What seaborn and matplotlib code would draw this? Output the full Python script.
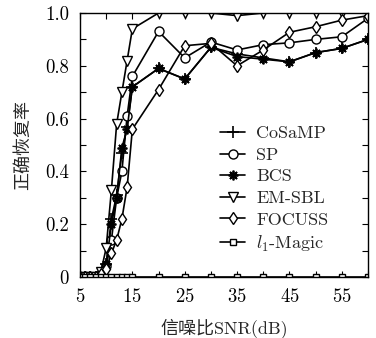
import matplotlib
matplotlib.use("Agg")
import matplotlib.pyplot as plt
import seaborn as sns
import pandas as pd
from matplotlib.ticker import MultipleLocator, FixedLocator

sns.set_theme(style="ticks")
plt.rcParams['font.family'] = ['cmr10', 'Noto Sans CJK SC']
plt.rcParams['mathtext.fontset'] = 'cm'
plt.rcParams['axes.formatter.use_mathtext'] = True

snr = [5, 6, 7, 8, 9, 10, 11, 12, 13, 14, 15, 20, 25, 30, 35, 40, 45, 50, 55, 60]
cosamp = [0, 0, 0, 0, 0.01, 0.05, 0.22, 0.31, 0.47, 0.57, 0.72, 0.79, 0.75, 0.87, 0.845, 0.83, 0.815, 0.85, 0.866, 0.90]
sp = [0, 0, 0, 0, 0.01, 0.04, 0.14, 0.30, 0.40, 0.61, 0.76, 0.93, 0.83, 0.89, 0.86, 0.88, 0.887, 0.90, 0.91, 0.98]
bcs = [0, 0, 0, 0, 0.01, 0.05, 0.20, 0.30, 0.49, 0.56, 0.72, 0.79, 0.75, 0.87, 0.835, 0.825, 0.815, 0.85, 0.866, 0.90]
emsbl = [0, 0, 0, 0, 0.02, 0.11, 0.33, 0.58, 0.70, 0.82, 0.94, 1.0, 1.0, 1.0, 0.99, 1.0, 1.0, 1.0, 1.0, 1.0]
focuss = [0, 0, 0, 0, 0.01, 0.03, 0.09, 0.14, 0.22, 0.34, 0.56, 0.71, 0.876, 0.885, 0.80, 0.86, 0.927, 0.948, 0.973, 0.99]
l1magic = [0, 0, 0, 0, 0, 0, 0, 0, 0, 0, 0, 0, 0, 0, 0, 0, 0, 0, 0, 0]

labels = ['CoSaMP', 'SP', 'BCS', 'EM-SBL', 'FOCUSS', r'$l_1$-Magic']
series = [cosamp, sp, bcs, emsbl, focuss, l1magic]
styles = [
    dict(marker='+', ms=8, mew=1.2, mfc='none'),
    dict(marker='o', ms=6.5, mew=1.0, mfc='white'),
    dict(marker=(8, 2, 0), ms=7, mew=1.3, mfc='black'),
    dict(marker='v', ms=7, mew=1.0, mfc='white'),
    dict(marker='d', ms=6.5, mew=1.0, mfc='white'),
    dict(marker='s', ms=4.5, mew=1.0, mfc='white'),
]

fig = plt.figure(figsize=(3.76, 3.38), dpi=100)
ax = fig.add_axes([80/376, 1 - 277/338, 288/376, 264/338])

for lab, vals, st in zip(labels, series, styles):
    df = pd.DataFrame({'snr': snr, 'rate': vals})
    sns.lineplot(data=df, x='snr', y='rate', ax=ax, color='black', lw=1.2,
                 mec='black', label=lab, **st)

ax.set_xlim(5, 60)
ax.set_ylim(0, 1.0)
ax.xaxis.set_major_locator(FixedLocator([5, 15, 25, 35, 45, 55]))
ax.xaxis.set_minor_locator(FixedLocator([10, 20, 30, 40, 50, 60]))
ax.yaxis.set_major_locator(FixedLocator([0, 0.2, 0.4, 0.6, 0.8, 1.0]))
ax.yaxis.set_minor_locator(MultipleLocator(0.1))
ax.set_yticklabels(['0', '0.2', '0.4', '0.6', '0.8', '1.0'])
ax.tick_params(which='both', direction='in', top=True, right=True, labelsize=13.5,
               colors='black')
ax.tick_params(which='major', length=4, width=0.8, pad=8)
ax.tick_params(which='minor', length=4, width=0.8)
for s in ax.spines.values():
    s.set_color('black')
    s.set_linewidth(1.0)

ax.set_xlabel('信噪比SNR(dB)', fontsize=13, labelpad=9)
ax.set_ylabel('正确恢复率', fontsize=13, labelpad=10)

leg = ax.legend(loc='upper left', bbox_to_anchor=(0.43, 0.635), frameon=False,
                fontsize=13, handlelength=1.4, labelspacing=0.33, handletextpad=0.6)

fig.savefig('out.png', dpi=100)
